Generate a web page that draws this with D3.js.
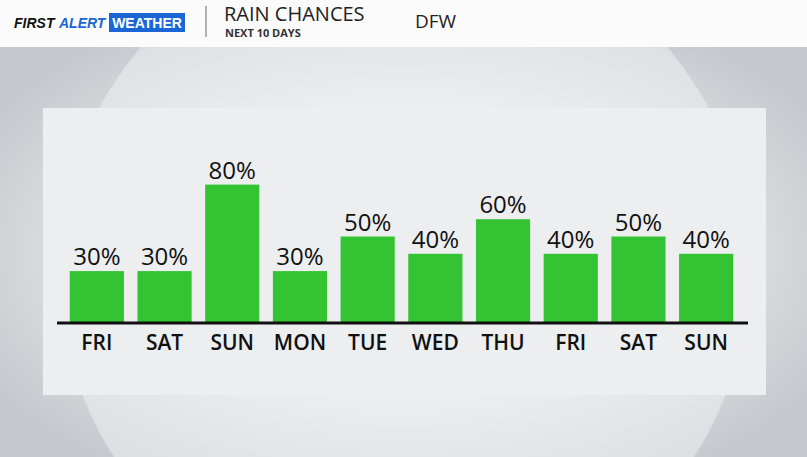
<!DOCTYPE html>
<html><head><meta charset="utf-8">
<script src="https://cdn.jsdelivr.net/npm/d3@7"></script>
<style>body{margin:0;overflow:hidden}</style>
</head><body>
<svg id="c" width="807" height="457"></svg>
<script>
const days = ["FRI", "SAT", "SUN", "MON", "TUE", "WED", "THU", "FRI", "SAT", "SUN"];
const chances = [30, 30, 80, 30, 50, 40, 60, 40, 50, 40];

const svg = d3.select("#c");
const defs = svg.append("defs");
const bg = defs.append("radialGradient").attr("id", "bg").attr("cx", "50%").attr("cy", "55%").attr("r", "60%");
bg.append("stop").attr("offset", "0%").attr("stop-color", "#f4f5f7");
bg.append("stop").attr("offset", "55%").attr("stop-color", "#e6e8ea");
bg.append("stop").attr("offset", "100%").attr("stop-color", "#c4c7cb");
svg.append("rect").attr("width", 807).attr("height", 457).attr("fill", "url(#bg)");
// soft sphere behind the panel
svg.append("circle").attr("cx", 404).attr("cy", 270).attr("r", 345).attr("fill", "#eef0f2").attr("opacity", 0.55);

// header band
svg.append("rect").attr("width", 807).attr("height", 47).attr("fill", "#fbfbfb");
svg.append("text").attr("x", 14).attr("y", 28).attr("font-family", "Liberation Sans, Arial").attr("font-weight", "bold")
  .attr("font-style", "italic").attr("font-size", 14).attr("fill", "#111").text("FIRST");
svg.append("text").attr("x", 59).attr("y", 28).attr("font-family", "Liberation Sans, Arial").attr("font-weight", "bold")
  .attr("font-style", "italic").attr("font-size", 14).attr("fill", "#1a66d6").text("ALERT");
svg.append("rect").attr("x", 109).attr("y", 13).attr("width", 76).attr("height", 19).attr("fill", "#1a66d6");
svg.append("text").attr("x", 147).attr("y", 28).attr("text-anchor", "middle").attr("font-family", "Liberation Sans, Arial")
  .attr("font-weight", "bold").attr("font-size", 14).attr("fill", "#fff").text("WEATHER");
svg.append("line").attr("x1", 206).attr("x2", 206).attr("y1", 6).attr("y2", 37).attr("stroke", "#999").attr("stroke-width", 1.5);
svg.append("text").attr("x", 224).attr("y", 21).attr("font-family", "Open Sans, sans-serif").attr("font-size", 20)
  .attr("fill", "#222").text("RAIN CHANCES");
svg.append("text").attr("x", 225).attr("y", 37).attr("font-family", "Open Sans, sans-serif").attr("font-weight", "bold")
  .attr("font-size", 11).attr("fill", "#333").text("NEXT 10 DAYS");
svg.append("text").attr("x", 415).attr("y", 28).attr("font-family", "Open Sans, sans-serif").attr("font-size", 19)
  .attr("fill", "#222").text("DFW");

// panel
svg.append("rect").attr("x", 43).attr("y", 108).attr("width", 723).attr("height", 287).attr("fill", "#eceef0");

const x = d3.scaleBand().domain(d3.range(days.length)).range([63, 740]).paddingInner(0.2).paddingOuter(0.1);
const y = d3.scaleLinear().domain([0, 100]).range([323, 150]);

svg.selectAll("rect.bar").data(chances).enter().append("rect").attr("class", "bar")
  .attr("x", (d, i) => x(i)).attr("width", x.bandwidth())
  .attr("y", d => y(d)).attr("height", d => y(0) - y(d)).attr("fill", "#33c333");

svg.selectAll("text.val").data(chances).enter().append("text").attr("class", "val")
  .attr("x", (d, i) => x(i) + x.bandwidth() / 2).attr("y", d => y(d) - 6)
  .attr("text-anchor", "middle").attr("font-family", "Open Sans, sans-serif").attr("font-size", 24)
  .attr("fill", "#111").text(d => d + "%");

const axis = svg.append("g").attr("transform", "translate(0,323)")
  .call(d3.axisBottom(x).tickSize(0).tickPadding(12).tickFormat(i => days[i]));
axis.select(".domain").remove();
axis.selectAll("text").attr("font-family", "Open Sans, sans-serif").attr("font-size", 21).attr("font-weight", 600)
  .attr("fill", "#111").attr("dy", "0.72em");
svg.append("line").attr("x1", 57).attr("x2", 748).attr("y1", 323).attr("y2", 323).attr("stroke", "#111").attr("stroke-width", 3);
</script>
</body></html>
